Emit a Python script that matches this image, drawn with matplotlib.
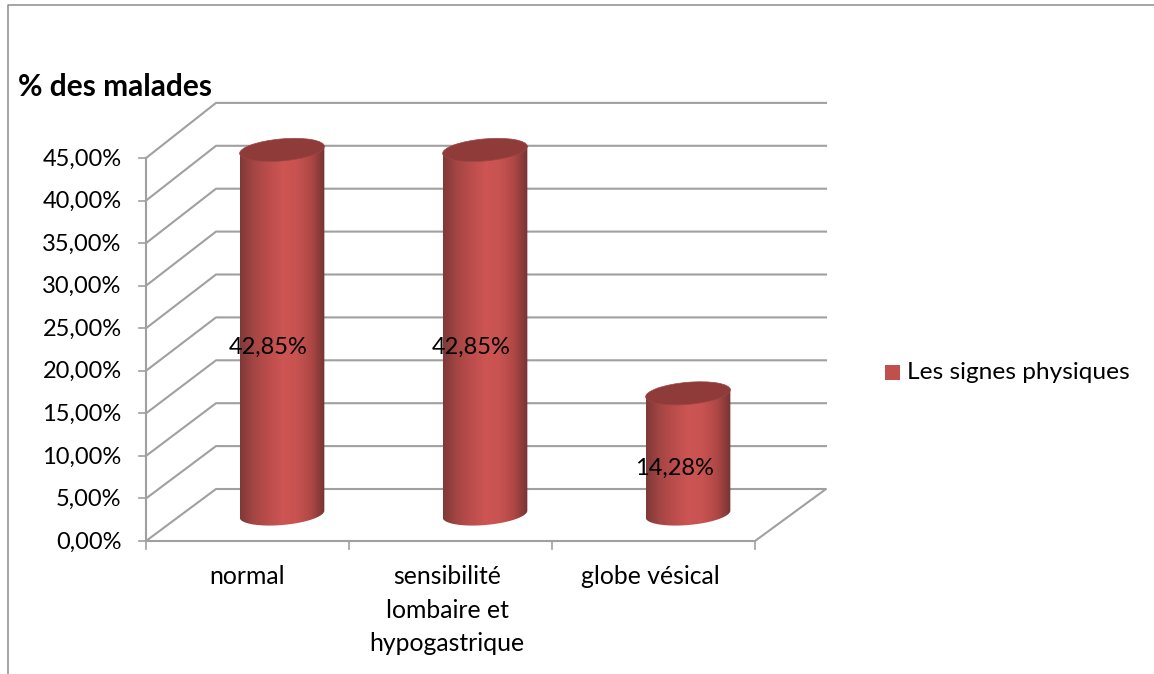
import numpy as np
import matplotlib
matplotlib.use("Agg")
import matplotlib.pyplot as plt
from matplotlib.colors import LinearSegmentedColormap
from matplotlib.patches import Ellipse, Polygon, Rectangle

categories = ["normal", "sensibilité\nlombaire et\nhypogastrique", "globe vésical"]
values = [42.85, 42.85, 14.28]
value_labels = ["42,85%", "42,85%", "14,28%"]
axis_ticks = [0, 5, 10, 15, 20, 25, 30, 35, 40, 45]
axis_labels = ["0,00%", "5,00%", "10,00%", "15,00%", "20,00%", "25,00%",
               "30,00%", "35,00%", "40,00%", "45,00%"]
legend_label = "Les signes physiques"
y_title = "% des malades"

W, H = 1154, 674
plt.rcParams["font.family"] = ["Lato", "DejaVu Sans"]

# everything is laid out in pixels of the reference
x_left, x_right, y_zero = 146, 755, 541
front_scale = 8.51
back_scale = 8.58
depth_x, depth_y = 70, -52
grid_col = "#a0a0a0"
bar_w = 85
bar_base = 514
bar_scale = 8.52
label_col = "#000000"
font_size = 17

side = LinearSegmentedColormap.from_list(
    "side", ["#7f3937", "#a54644", "#bb4d4b", "#cd5553", "#c85351", "#b04846", "#743433"])


def front_y(v):
    return y_zero - v * front_scale


def back_y(v):
    return y_zero + depth_y - v * back_scale


fig = plt.figure(figsize=(W / 100, H / 100), dpi=100)
ax = fig.add_axes([0, 0, 1, 1])
ax.axis("off")

# frame around the chart
ax.plot([8, 8, W], [H, 5, 5], color="#8c8c8c", lw=1.1)

# back wall lines
for t in axis_ticks[1:]:
    ax.plot([x_left, x_left + depth_x, x_right + depth_x + 1],
            [front_y(t), back_y(t), back_y(t)], color=grid_col, lw=1.5, zorder=1)
    ax.plot([x_left - 7, x_left], [front_y(t), front_y(t)], color=grid_col, lw=1.2, zorder=1)

# floor
ax.plot([x_left, x_left + depth_x, x_right + depth_x + 1, x_right, x_left],
        [y_zero, back_y(0), back_y(0), y_zero, y_zero],
        color=grid_col, lw=1.5, zorder=1)
ax.plot([x_left - 7, x_left], [y_zero, y_zero], color=grid_col, lw=1.2, zorder=1)
ax.plot([x_left, x_left], [front_y(45), y_zero], color=grid_col, lw=1.5, zorder=1)

# ticks under the categories
step = (x_right - x_left) / len(categories)
for i in range(len(categories) + 1):
    x = x_left + i * step
    ax.plot([x, x], [y_zero, y_zero + 8], color=grid_col, lw=1.2, zorder=1)

for t, lab in zip(axis_ticks, axis_labels):
    ax.text(121.5, front_y(t) + 1, lab, ha="right", va="center", fontsize=font_size, color=label_col)

# cylinders
grad = np.linspace(0, 1, 256).reshape(1, -1)
centres = []
for i, v in enumerate(values):
    cx = x_left + (i + 0.5) * step + 34.5
    centres.append(cx)
    top = bar_base - v * bar_scale
    t = np.linspace(0, np.pi, 60)
    a, b, tilt = bar_w / 2, 11, np.deg2rad(-5)
    ex = a * np.cos(t) * np.cos(tilt) - b * np.sin(t) * np.sin(tilt)
    ey = a * np.cos(t) * np.sin(tilt) + b * np.sin(t) * np.cos(tilt)
    # right side down the front of the top cap, then back along the bottom cap
    body = np.column_stack([
        np.r_[cx + ex, cx + ex[::-1]],
        np.r_[top + a * np.cos(t) * np.sin(tilt), bar_base + ey[::-1]],
    ])
    poly = Polygon(body, closed=True, facecolor="none", edgecolor="none", zorder=2)
    ax.add_patch(poly)
    im = ax.imshow(grad, cmap=side, extent=[cx - a, cx + a, bar_base + 15, top - 15],
                   aspect="auto", zorder=2, interpolation="bilinear")
    im.set_clip_path(poly)
    ax.add_patch(Ellipse((cx, top + 1), bar_w, 2 * b, angle=-5,
                         facecolor="#8e3b39", edgecolor="#a04442", lw=0.5, zorder=3))

for cx, v, lab in zip(centres, values, value_labels):
    ax.text(cx - 14, (bar_base + bar_base - v * bar_scale) / 2 + 15.5, lab, ha="center",
            va="center", fontsize=font_size, color=label_col, zorder=5)

cat_x = [247, 447, 650]
for x, lab in zip(cat_x, categories):
    ax.text(x, 565, lab, ha="center", va="top", fontsize=17.8, color=label_col,
            linespacing=1.56)

ax.text(18, 87, y_title, ha="left", va="center", fontsize=21.5, fontweight="bold",
        color=label_col)

# legend
ax.add_patch(Rectangle((885, 365), 15, 15, facecolor="#c0504d", edgecolor="none"))
ax.text(907, 372.5, legend_label, ha="left", va="center", fontsize=17.6, color=label_col)

ax.set_xlim(0, W)
ax.set_ylim(H, 0)
fig.savefig("out.png", dpi=100)
